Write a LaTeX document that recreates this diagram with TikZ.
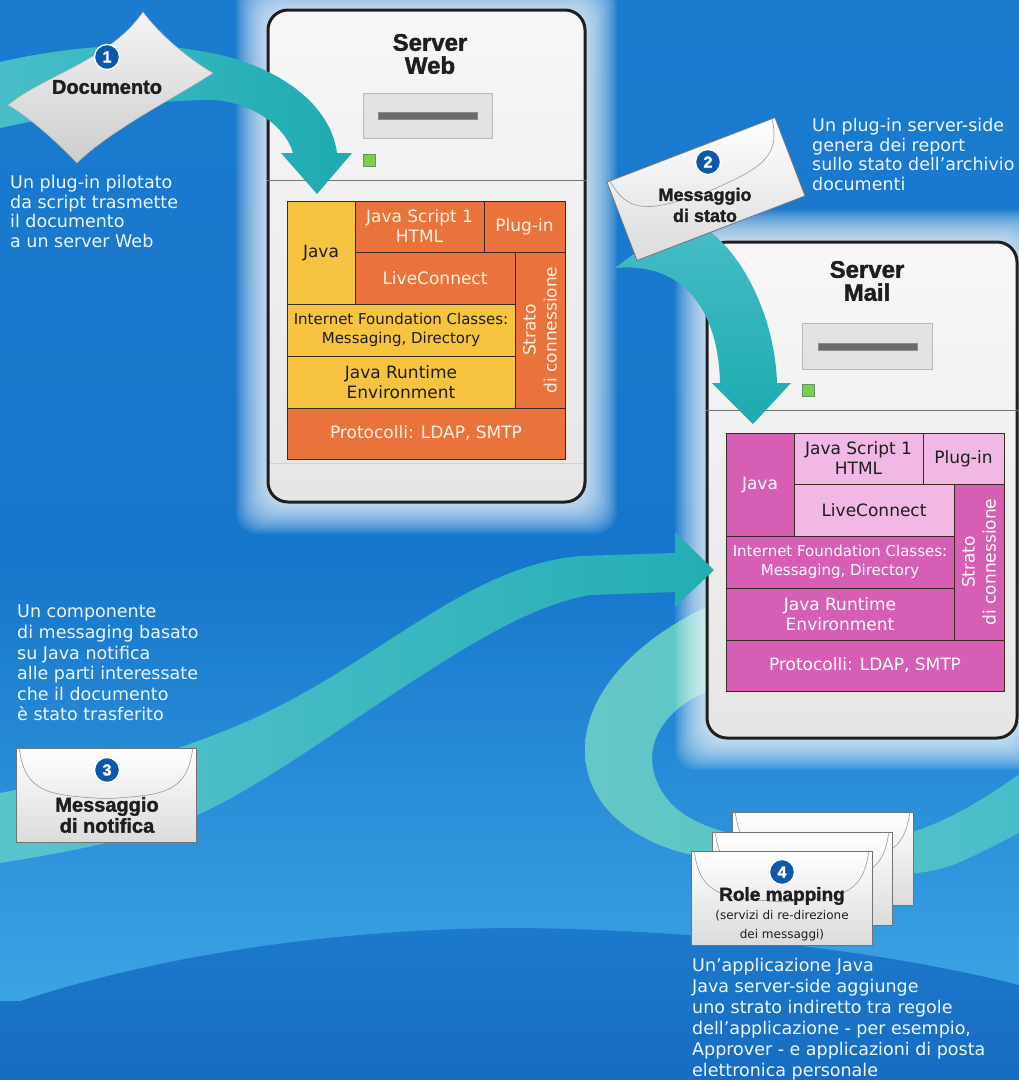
\documentclass[tikz,border=0pt]{standalone}
\usepackage{fontspec}
\setmainfont{DejaVu Sans}
\newfontfamily\headsans[BoldFeatures={FakeBold=1.6}]{Liberation Sans}
\usetikzlibrary{calc}

\definecolor{skyA}{HTML}{1B7BCF}
\definecolor{skyB}{HTML}{1676CB}
\definecolor{skyC}{HTML}{3CA3E4}
\definecolor{domeA}{HTML}{1C79CC}
\definecolor{domeB}{HTML}{176CC0}
\definecolor{tealA}{HTML}{1DAAB0}
\definecolor{tealB}{HTML}{48BEC8}
\definecolor{tealC}{HTML}{66C8C6}
\definecolor{yel}{HTML}{F6C441}
\definecolor{org}{HTML}{E9733A}
\definecolor{mag}{HTML}{D65FB5}
\definecolor{pnk}{HTML}{F1B7E5}
\definecolor{ink}{HTML}{1E1E1E}
\definecolor{capcol}{HTML}{FFF3E6}
\definecolor{numblue}{HTML}{0D58A8}
\definecolor{paperA}{HTML}{F4F4F4}
\definecolor{paperB}{HTML}{CDCDCD}
\definecolor{bodytext}{HTML}{EEF6FF}
\definecolor{blkline}{HTML}{3A2A22}

\newcommand\envflap[1]{%
  \draw[flapline] ($(#1.north west)!0.02!(#1.north east)$)
    .. controls ($(#1.west)!0.05!(#1.east)$) and ($(#1.center)!0.6!(#1.west)$)
    .. ($(#1.center)!0.08!(#1.south)$)
    .. controls ($(#1.center)!0.6!(#1.east)$) and ($(#1.east)!0.05!(#1.west)$)
    .. ($(#1.north east)!0.02!(#1.north west)$);}

\begin{document}
\begin{tikzpicture}[x=1pt,y=-1pt,
  bodytxt/.style={text=bodytext, font=\fontsize{17.5}{19.7}\selectfont, align=left, inner sep=0pt, anchor=north west},
  numdot/.style={circle, fill=numblue, draw=white, line width=1.3pt, minimum size=25pt, inner sep=0pt, text=white, font=\headsans\bfseries\fontsize{16}{16}\selectfont},
  envtitle/.style={text=ink, align=center, inner sep=0pt, font=\headsans\bfseries\fontsize{#1}{21}\selectfont},
  envsub/.style={text=ink, align=center, inner sep=0pt, font=\fontsize{12}{19}\selectfont},
  envbody/.style={draw=black!55, line width=0.8pt, top color=white, bottom color=black!14, inner sep=0pt},
  flapline/.style={draw=black!40, line width=0.6pt},
  serverbox/.style={draw=black!88, line width=3pt, rounded corners=20pt, top color=black!3, bottom color=black!10, inner sep=0pt},
  servertitle/.style={text=ink, align=center, inner sep=0pt, font=\headsans\bfseries\fontsize{24}{23}\selectfont},
  screen/.style={fill=black!11, draw=black!28, line width=0.6pt, inner sep=0pt},
  screenbar/.style={fill=black!58, draw=black!45, line width=0.4pt, inner sep=0pt},
  led/.style={fill=green!45!olive!70!white, draw=green!30!black!60, line width=0.5pt, inner sep=0pt, minimum size=12pt},
  sepline/.style={draw=black!55, line width=0.7pt},
  blk/.style={draw=blkline, line width=0.9pt, inner sep=0pt, align=center, font=\fontsize{17}{20}\selectfont},
  warmblk/.style={blk, fill=org, text=capcol},
  sunblk/.style={blk, fill=yel, text=ink},
  deepblk/.style={blk, fill=mag, text=white},
  paleblk/.style={blk, fill=pnk, text=ink},
  smallblk/.style={font=\fontsize{15}{19}\selectfont},
  sideblk/.style={rotate=90, font=\fontsize{17}{21}\selectfont},
  bandA/.style={left color=tealB, right color=tealA},
  bandB/.style={top color=tealB, bottom color=tealA},
  bandC/.style={left color=tealB!90!white, right color=tealA!85!tealB},
  bandD/.style={left color=tealC, right color=tealB},
]
\useasboundingbox (0,0) rectangle (1019,1080);

% ---------- sky background ----------
\fill[skyB] (0,0) rectangle (1019,1080);
\shade[top color=skyA, bottom color=skyB] (0,0) rectangle (1019,560);
\shade[top color=skyB, bottom color=skyC] (0,560) rectangle (1019,1000);
\shade[top color=domeA, bottom color=domeB]
  (0,1008) .. controls (150,955) and (340,928) .. (520,928)
  .. controls (700,930) and (880,950) .. (1019,985)
  -- (1019,1080) -- (0,1080) -- cycle;

% ---------- band 4: from the mail server round to the right ----------
\path[bandD] (745,600) -- (700,610)
  .. controls (640,640) and (585,690) .. (585,750)
  .. controls (585,810) and (640,850) .. (720,860)
  .. controls (800,870) and (900,888) .. (960,862)
  .. controls (985,851) and (1005,840) .. (1025,830)
  -- (1025,770)
  .. controls (990,795) and (940,830) .. (880,840)
  .. controls (800,850) and (700,840) .. (668,800)
  .. controls (640,765) and (650,725) .. (690,700)
  .. controls (710,690) and (725,682) .. (745,676) -- cycle;

% ---------- soft halos round the servers ----------
\foreach \g in {1,...,16}{
  \fill[white, opacity=0.08, rounded corners=22pt] (268-2*\g,10-2*\g) rectangle (585+2*\g,502+2*\g);
  \fill[white, opacity=0.08, rounded corners=22pt] (707-2*\g,242-2*\g) rectangle (1017+2*\g,738+2*\g);
}

% ---------- Server Web ----------
\node[serverbox, minimum width=317, minimum height=492] (web) at (426.5,256) {};
\node[servertitle] (webtitle) at (430,54) {Server\\Web};
\node[screen, minimum width=129, minimum height=45] (webscreen) at (427.5,115.5) {};
\node[screenbar, minimum width=99, minimum height=7] (webbar) at (427.5,115.5) {};
\node[led] (webled) at (369,160) {};
\draw[sepline] (web.west |- webled.south) ++(0,14) -- ($(web.east |- webled.south)+(0,14)$);
\draw[black!18, line width=0.6pt] (270,463) -- (583,463);

\node[sunblk, minimum width=68, minimum height=103] (wjava) at (321,252.5) {Java};
\node[warmblk, minimum width=129, minimum height=51] (wjs) at (419.5,226.5) {Java Script 1\\HTML};
\node[warmblk, minimum width=81, minimum height=51] (wplug) at (524.5,226.5) {Plug-in};
\node[warmblk, minimum width=160, minimum height=52] (wlive) at (435,278) {LiveConnect};
\node[warmblk, sideblk, minimum width=156, minimum height=50] (wstrato) at (540,330) {Strato\\di connessione};
\node[sunblk, smallblk, minimum width=228, minimum height=52] (wifc) at (401,330) {Internet Foundation Classes:\\Messaging, Directory};
\node[sunblk, minimum width=228, minimum height=52] (wjre) at (401,382) {Java Runtime\\Environment};
\node[warmblk, minimum width=278, minimum height=51] (wproto) at (426,433.5) {Protocolli: LDAP, SMTP};

% ---------- Server Mail ----------
\node[serverbox, minimum width=310, minimum height=496] (mail) at (862,490) {};
\node[servertitle] (mailtitle) at (867,281) {Server\\Mail};
\node[screen, minimum width=130, minimum height=46] (mailscreen) at (867,346) {};
\node[screenbar, minimum width=99, minimum height=7] (mailbar) at (867.5,346.5) {};
\node[led] (mailled) at (808,390.5) {};
\draw[sepline] (mail.west |- mailled.south) ++(0,14) -- ($(mail.east |- mailled.south)+(0,14)$);

\node[deepblk, minimum width=68, minimum height=103] (mjava) at (760,484.5) {Java};
\node[paleblk, minimum width=129, minimum height=51] (mjs) at (858.5,458.5) {Java Script 1\\HTML};
\node[paleblk, minimum width=81, minimum height=51] (mplug) at (963.5,458.5) {Plug-in};
\node[paleblk, minimum width=160, minimum height=52] (mlive) at (874,510) {LiveConnect};
\node[deepblk, sideblk, minimum width=156, minimum height=50] (mstrato) at (979,562) {Strato\\di connessione};
\node[deepblk, smallblk, minimum width=228, minimum height=52] (mifc) at (840,562) {Internet Foundation Classes:\\Messaging, Directory};
\node[deepblk, minimum width=228, minimum height=52] (mjre) at (840,614) {Java Runtime\\Environment};
\node[deepblk, minimum width=278, minimum height=51] (mproto) at (865,665.5) {Protocolli: LDAP, SMTP};

% ---------- band 1: document into the web server ----------
\path[bandA] (0,62) .. controls (60,48) and (140,40) .. (193,50)
  .. controls (270,60) and (330,100) .. (337,153)
  -- (352,153) -- (317,194) -- (281,153) -- (293,153)
  .. controls (285,125) and (250,102) .. (213,100)
  .. controls (140,100) and (60,115) .. (0,128) -- cycle;

% ---------- band 2: status message into the mail server ----------
\path[bandB] (690,212) -- (705,228)
  .. controls (745,255) and (775,320) .. (777,383)
  -- (791,383) -- (753,424) -- (712,383) -- (720,383)
  .. controls (718,300) and (675,262) .. (615,268) -- cycle;

% ---------- band 3: notification into the mail server ----------
\path[bandC] (0,793) .. controls (120,770) and (220,740) .. (300,695)
  .. controls (400,640) and (480,565) .. (580,556) -- (675,553)
  -- (675,532) -- (714,570) -- (675,607) -- (675,592) -- (590,595)
  .. controls (530,605) and (460,650) .. (390,696)
  .. controls (320,742) and (240,800) .. (180,822)
  .. controls (120,843) and (50,855) .. (0,863) -- cycle;

% ---------- 1: document sheet ----------
\shade[top color=paperA, bottom color=paperB, draw=black!30, line width=0.5pt]
  (8,105) .. controls (45,75) and (110,60) .. (143,12)
  .. controls (160,35) and (190,60) .. (213,73)
  .. controls (180,95) and (110,130) .. (77,163)
  .. controls (55,140) and (30,118) .. (8,105) -- cycle;
\node[numdot] (n1) at (107,57) {1};
\node[envtitle=20] (doclabel) at (107,87) {Documento};

% ---------- 2: status message ----------
\node[envbody, rotate=21, minimum width=180, minimum height=84] (env2) at (706,189) {};
\envflap{env2}
\node[numdot] (n2) at (708,162) {2};
\node[envtitle=18] (env2label) at (705,205) {Messaggio\\di stato};

% ---------- 3: notification message ----------
\node[envbody, minimum width=180, minimum height=94] (env3) at (106,795) {};
\envflap{env3}
\node[numdot] (n3) at (107,770) {3};
\node[envtitle=20] (env3label) at (107,815) {Messaggio\\di notifica};

% ---------- 4: role mapping stack ----------
\node[envbody, minimum width=181, minimum height=93] (env4c) at (822.5,858.5) {};
\envflap{env4c}
\node[envbody, minimum width=180, minimum height=93] (env4b) at (802,878.5) {};
\envflap{env4b}
\node[envbody, minimum width=181, minimum height=94] (env4a) at (781.5,898) {};
\envflap{env4a}
\node[numdot] (n4) at (782,872) {4};
\node[envtitle=19] (env4label) at (782,896) {Role mapping};
\node[envsub] (env4sub) at (782,926) {(servizi di re-direzione\\dei messaggi)};

% ---------- captions ----------
\node[bodytxt] (cap1) at (10,175) {Un plug-in pilotato\\da script trasmette\\il documento\\a un server Web};
\node[bodytxt] (cap2) at (812,118) {Un plug-in server-side\\genera dei report\\sullo stato dell'archivio\\documenti};
\node[bodytxt, font=\fontsize{17.5}{20.6}\selectfont] (cap3) at (17,605) {Un componente\\di messaging basato\\su Java notifica\\alle parti interessate\\che il documento\\è stato trasferito};
\node[bodytxt, font=\fontsize{17.5}{21}\selectfont] (cap4) at (692,958) {Un'applicazione Java\\Java server-side aggiunge\\uno strato indiretto tra regole\\dell'applicazione - per esempio,\\Approver - e applicazioni di posta\\elettronica personale};
\end{tikzpicture}
\end{document}
